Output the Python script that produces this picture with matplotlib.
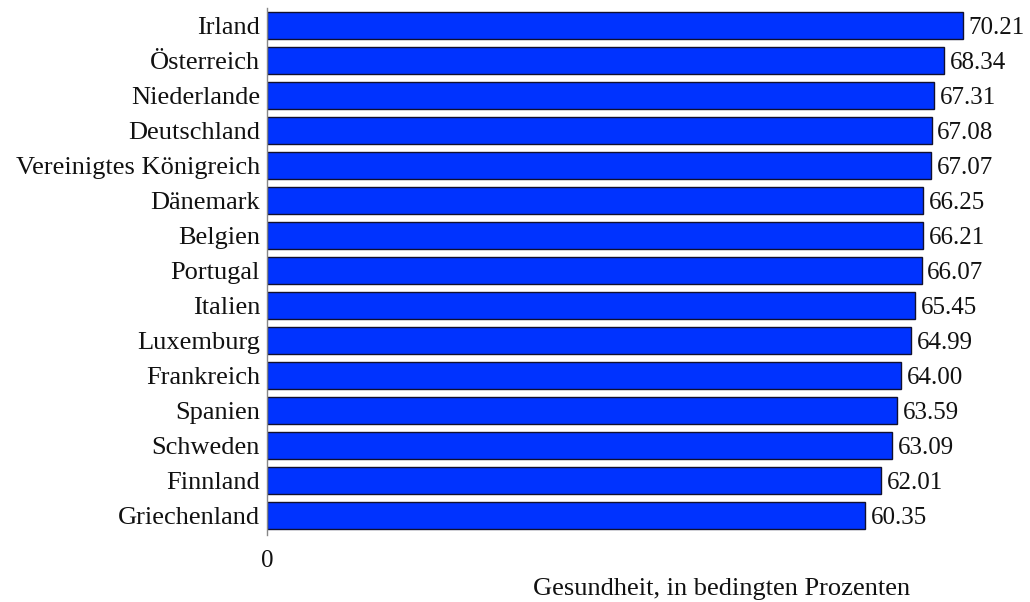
import matplotlib
matplotlib.use("Agg")
import matplotlib.pyplot as plt

countries = ["Irland", "Österreich", "Niederlande", "Deutschland", "Vereinigtes Königreich",
             "Dänemark", "Belgien", "Portugal", "Italien", "Luxemburg", "Frankreich",
             "Spanien", "Schweden", "Finnland", "Griechenland"]
values = [70.21, 68.34, 67.31, 67.08, 67.07, 66.25, 66.21, 66.07, 65.45, 64.99,
          64.00, 63.59, 63.09, 62.01, 60.35]
xlabel = "Gesundheit, in bedingten Prozenten"

plt.rcParams['font.family'] = ['Liberation Serif', 'DejaVu Serif']

fig = plt.figure(figsize=(10.30, 6.02), dpi=100)
ax = fig.add_axes([0.2592, 0.1113, 0.7214, 0.8751])

n = len(countries)
pos = list(range(n - 1, -1, -1))
ax.barh(pos, values, height=0.78, color='#0033FF', edgecolor='#101030', linewidth=1.0)

for p, v in zip(pos, values):
    ax.annotate(f"{v:.2f}", xy=(v, p), xytext=(4, 0), textcoords='offset points',
                va='center_baseline', ha='left', fontsize=18, color='#111111')

ax.set_yticks(pos)
ax.set_yticklabels(countries, fontsize=19, color='#111111', va='center_baseline')
ax.tick_params(axis='y', length=0, pad=5)
ax.set_xlim(0, 75)
ax.set_ylim(-0.56, n - 0.5)
ax.set_xticks([0])
ax.set_xticklabels(["0"], fontsize=18, color='#111111')
ax.tick_params(axis='x', length=0, pad=11)

for s in ['top', 'right', 'bottom']:
    ax.spines[s].set_visible(False)
ax.spines['left'].set_color('#888888')
ax.spines['left'].set_linewidth(1.0)

fig.text(722 / 1030, 1 - 589 / 602, xlabel, ha='center', va='center', fontsize=19, color='#111111')

fig.savefig("out.png", dpi=100, facecolor='white')
